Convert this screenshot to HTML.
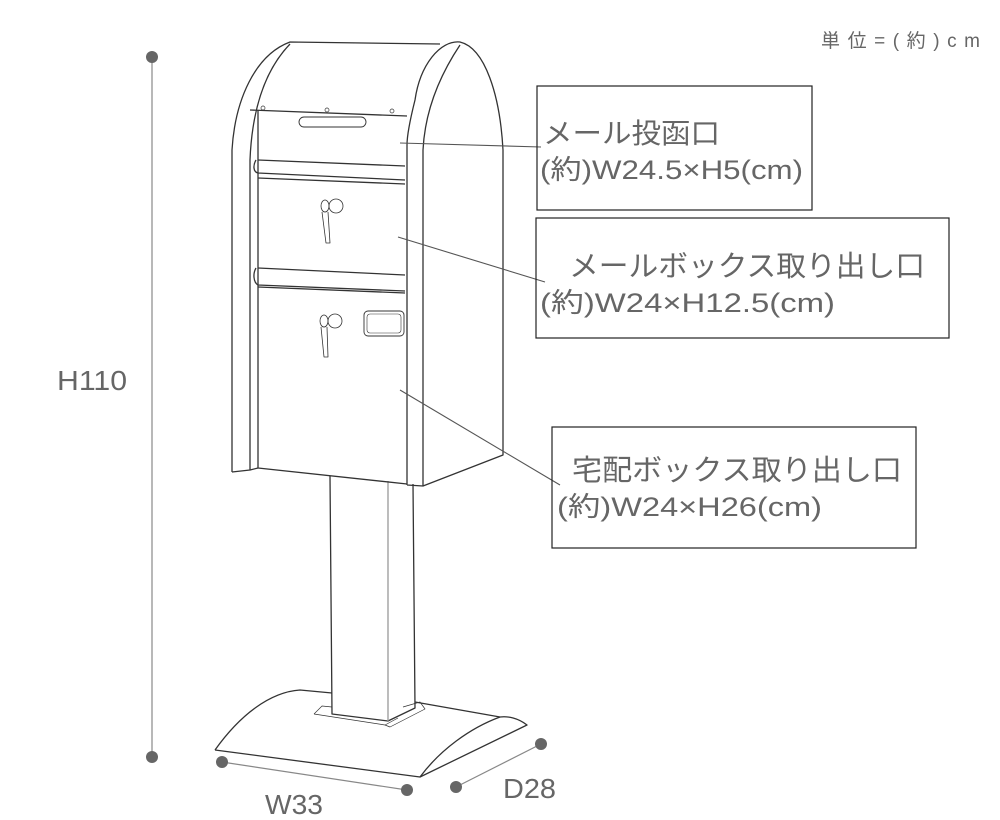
<!DOCTYPE html>
<html><head><meta charset="utf-8"><style>
body{margin:0;background:#fff;width:1000px;height:820px;overflow:hidden}
svg{display:block}
text{font-family:"Liberation Sans","Noto Sans CJK JP",sans-serif;fill:#666}
</style></head><body>
<svg width="1000" height="820" viewBox="0 0 1000 820" xmlns="http://www.w3.org/2000/svg">
<g fill="none" stroke="#333" stroke-width="1.3" stroke-linejoin="round">
<path d="M215,750 C240,715 270,692 300,690 L332,693" fill="#fff"/>
<path d="M215,750 L420,777 L527,725 C518,718 508,716 500,717 L415,702"/>
<path d="M420,777 C440,750 470,728 500,717"/>
<path d="M314,714 L322,706 L332,707 M314,714 L385,725 L398,718 M403,707 L420,702 L425,709 L390,727 L385,725" stroke-width="0.7"/>
<path d="M330,476 L332,714 L388,721 L415,708 L413,484"/>
<path d="M388,481 L388,721" stroke="#999"/>
<path d="M232,472 L232,150 C235,100 255,55 290,42 L440,44"/>
<path d="M232,472 L250,470 L250,160 C252,110 265,70 290,44"/>
<path d="M250,470 L258,468"/>
<path d="M250,110 L407,116"/>
<path d="M258,110 L258,468 L407,484"/>
<path d="M407,485 L423,486 L503,455 L503,150 C500,95 485,48 460,42 C440,40 420,65 415,100 C410,120 407,135 407,145 L407,485"/>
<path d="M423,486 L423,150 C425,110 440,75 460,45"/>
<path d="M258,160 L405,166 M256,160 C253,165 253,172 258,173 L405,180 M258,178 L405,184"/>
<path d="M258,268 L405,275 M256,268 C253,273 253,282 258,285 L405,291 M258,287 L405,293"/>
<rect x="299" y="117" width="67" height="10" rx="5" stroke-width="0.9"/>
<circle cx="263" cy="108" r="2" stroke-width="0.7"/><circle cx="327" cy="110" r="2" stroke-width="0.7"/><circle cx="392" cy="111" r="2" stroke-width="0.7"/>
<circle cx="336" cy="206" r="7" stroke-width="0.8"/><ellipse cx="325" cy="206" rx="4" ry="6" stroke-width="0.8"/><path d="M322,212 L326,243 L330,243 L328,212" stroke-width="0.8"/>
<circle cx="335" cy="321" r="7" stroke-width="0.8"/><ellipse cx="324" cy="321" rx="4" ry="6" stroke-width="0.8"/><path d="M321,327 L324,357 L328,357 L327,327" stroke-width="0.8"/>
<rect x="364" y="311" width="40" height="25" rx="4" stroke-width="0.9"/><rect x="367" y="314" width="34" height="19" rx="3" stroke-width="0.6"/>
</g>
<g stroke="#555" stroke-width="1.1">
<line x1="400" y1="143" x2="541" y2="147"/>
<line x1="398" y1="237" x2="545" y2="282"/>
<line x1="400" y1="390" x2="560" y2="485"/>
</g>
<g fill="none" stroke="#222" stroke-width="1.2">
<rect x="537" y="86" width="275" height="124"/>
<rect x="536" y="218" width="413" height="120"/>
<rect x="552" y="427" width="364" height="121"/>
</g>
<text x="543" y="143" font-size="28" textLength="177" lengthAdjust="spacingAndGlyphs">メール投函口</text>
<text x="540" y="179" font-size="27" textLength="263" lengthAdjust="spacingAndGlyphs">(約)W24.5×H5(cm)</text>
<text x="569" y="276" font-size="29" textLength="356" lengthAdjust="spacingAndGlyphs">メールボックス取り出し口</text>
<text x="540" y="312" font-size="27" textLength="295" lengthAdjust="spacingAndGlyphs">(約)W24×H12.5(cm)</text>
<text x="572" y="480" font-size="29" textLength="330" lengthAdjust="spacingAndGlyphs">宅配ボックス取り出し口</text>
<text x="557" y="516" font-size="27" textLength="265" lengthAdjust="spacingAndGlyphs">(約)W24×H26(cm)</text>
<g stroke="#888" stroke-width="1.2">
<line x1="152" y1="57" x2="152" y2="757"/>
<line x1="222" y1="762" x2="407" y2="790"/>
<line x1="456" y1="787" x2="541" y2="744"/>
</g>
<g fill="#666">
<circle cx="152" cy="57" r="6"/><circle cx="152" cy="757" r="6"/>
<circle cx="222" cy="762" r="6"/><circle cx="407" cy="790" r="6"/>
<circle cx="456" cy="787" r="6"/><circle cx="541" cy="744" r="6"/>
</g>
<text x="57" y="390" font-size="28" textLength="70" lengthAdjust="spacingAndGlyphs">H110</text>
<text x="265" y="814" font-size="28" textLength="58" lengthAdjust="spacingAndGlyphs">W33</text>
<text x="503" y="798" font-size="28" textLength="53" lengthAdjust="spacingAndGlyphs">D28</text>
<text x="821" y="47" font-size="19" textLength="159" lengthAdjust="spacing">単位=(約)cm</text>
</svg>
</body></html>
